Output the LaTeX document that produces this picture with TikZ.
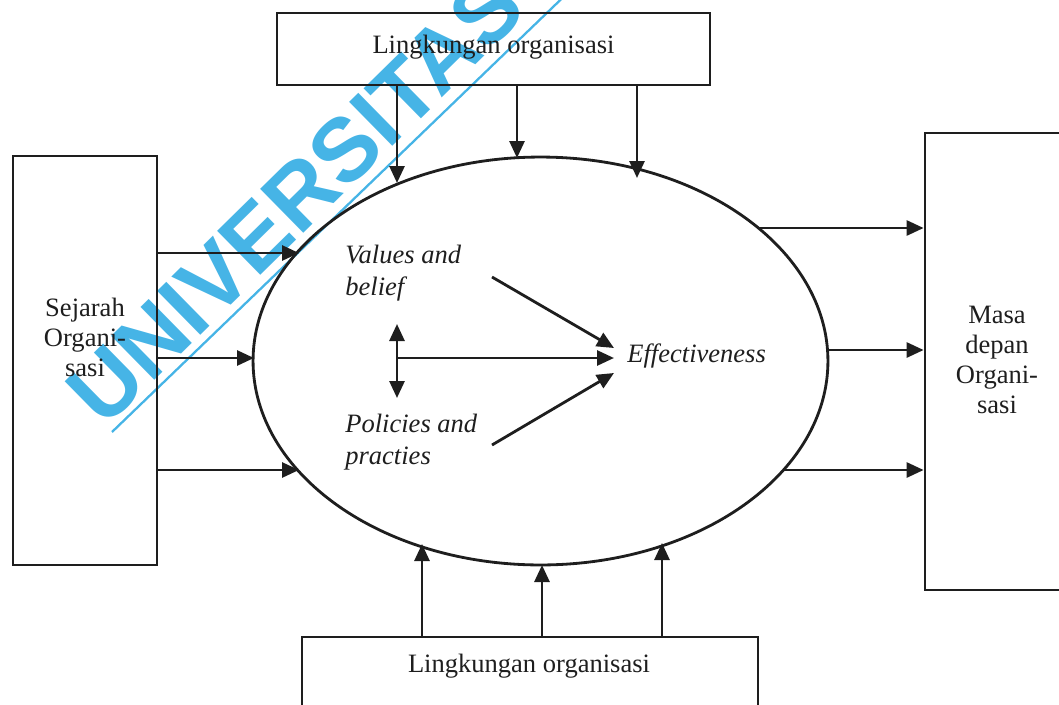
\documentclass[tikz,border=0pt]{standalone}
\usepackage{fontspec}
\setmainfont{Liberation Serif}
\newfontfamily\wmfont{Liberation Sans}
\usetikzlibrary{arrows.meta,shapes.geometric}
\definecolor{wmblue}{RGB}{70,180,230}
\definecolor{ink}{RGB}{30,30,30}
\begin{document}
\begin{tikzpicture}[x=0.02cm,y=-0.02cm,
  line/.style={draw=ink,line width=1.6pt},
  arr/.style={line,-{Triangle[length=0.34cm,width=0.30cm]}},
  darr/.style={line,{Triangle[length=0.34cm,width=0.30cm]}-{Triangle[length=0.34cm,width=0.30cm]}},
  box/.style={line,rectangle,inner sep=0pt},
  lbl/.style={text=ink,font=\fontsize{15.1}{17.1}\selectfont,inner sep=0pt,align=center},
  ilbl/.style={text=ink,font=\fontsize{15.1}{18.2}\selectfont\itshape,inner sep=0pt,align=left},
  wmtext/.style={text=wmblue,font=\wmfont\bfseries\fontsize{51}{53}\selectfont,inner sep=0pt}
]
\useasboundingbox (0,0) rectangle (1059,704);
\clip (0,0) rectangle (1059,704);
% watermark
\node[wmtext,rotate=44.5,anchor=base west] (wm) at (104,430) {UNIVERSITAS};
\draw[wmblue,line width=1.3pt] (112,432) -- (580,-19);
% boxes
\node[box,minimum width=8.66cm,minimum height=1.44cm] (envtop) at (493.5,49) {};
\node[lbl,anchor=base] (envtopT) at (493.5,53) {Lingkungan organisasi};
\node[box,minimum width=9.12cm,minimum height=2.16cm] (envbot) at (530,691) {};
\node[lbl,anchor=base] (envbotT) at (529,672) {Lingkungan organisasi};
\node[box,minimum width=2.88cm,minimum height=8.18cm] (sej) at (85,360.5) {};
\node[lbl] (sejT) at (85,337) {Sejarah\\Organi-\\sasi};
\node[box,minimum width=2.88cm,minimum height=9.14cm] (masa) at (997,361.5) {};
\node[lbl] (masaT) at (997,360) {Masa\\depan\\Organi-\\sasi};
% ellipse
\node[line,ellipse,minimum width=11.5cm,minimum height=8.16cm,inner sep=0pt] (ell) at (540.5,361) {};
% inner texts
\node[ilbl,anchor=west] (vals) at (345,273) {Values and\\belief};
\node[ilbl,anchor=west] (pols) at (345,442) {Policies and\\practies};
\node[ilbl,anchor=base west] (eff) at (627,362) {Effectiveness};
% points on the ellipse
\coordinate (t1) at (397,183);
\coordinate (t2) at (517,158);
\coordinate (t3) at (637,178);
\coordinate (b1) at (422,544);
\coordinate (b2) at (542,565);
\coordinate (b3) at (662,543);
\coordinate (l1) at (299,253);
\coordinate (l2) at (254,358);
\coordinate (l3) at (299,470);
\coordinate (r1) at (758,228);
\coordinate (r2) at (828,350);
\coordinate (r3) at (784,470);
% connectors
\draw[arr] (envtop.south -| t1) -- (t1);
\draw[arr] (envtop.south -| t2) -- (t2);
\draw[arr] (envtop.south -| t3) -- (t3);
\draw[arr] (envbot.north -| b1) -- (b1);
\draw[arr] (envbot.north -| b2) -- (b2);
\draw[arr] (envbot.north -| b3) -- (b3);
\draw[arr] (sej.east |- l1) -- (l1);
\draw[arr] (sej.east |- l2) -- (l2);
\draw[arr] (sej.east |- l3) -- (l3);
\draw[arr] (r1) -- (masa.west |- r1);
\draw[arr] (r2) -- (masa.west |- r2);
\draw[arr] (r3) -- (masa.west |- r3);
% inner arrows
\coordinate (vt) at (397,324);
\coordinate (vb) at (397,398);
\coordinate (hm) at (397,358);
\coordinate (he) at (614,358);
\coordinate (d1s) at (492,277);
\coordinate (d1e) at (614,348);
\coordinate (d2s) at (492,445);
\coordinate (d2e) at (614,373);
\draw[darr] (vt) -- (vb);
\draw[arr] (hm) -- (he);
\draw[arr] (d1s) -- (d1e);
\draw[arr] (d2s) -- (d2e);
\end{tikzpicture}
\end{document}
